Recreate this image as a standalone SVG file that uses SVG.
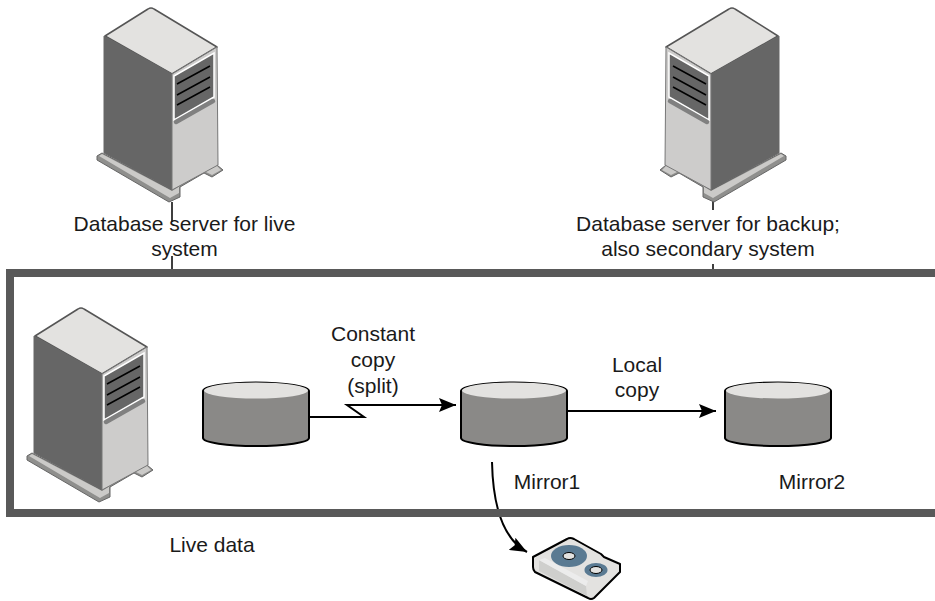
<svg xmlns="http://www.w3.org/2000/svg" width="935" height="601" viewBox="0 0 935 601">
<style>
text{font-family:"Liberation Sans",Arial,sans-serif;font-size:21px;fill:#1a1a1a;text-anchor:middle}
.c{fill:none;stroke:#000;stroke-width:2}
.cyl{fill:#8a8987;stroke:#000;stroke-width:2}
.top{fill:#e3e2e0}
</style>
<defs>
<marker id="a" markerWidth="18" markerHeight="14" refX="17" refY="7" orient="auto" markerUnits="userSpaceOnUse"><path d="M0 0L17 7L0 14L3 7z" fill="#000"/></marker>
<g id="srv">
<path d="M97 156L102 153L172 190L212 165L217 165L223 170L212 177L204 173L180 187L180 197L169 202L97 160Z" fill="#8f8f8d" stroke="#666" stroke-width="1"/>
<path d="M99 156L102 154L172 191L212 166L217 166L221 170L212 175L204 171L179 186L179 193L170 198Z" fill="#cbcac8"/>
<path d="M105 36L148 9Q151 7 154 9L217 47L172 74Z" fill="#e3e2e0" stroke="#555" stroke-width="1.500" stroke-linejoin="round"/>
<path d="M104 36L172 74L172 190L104 153Z" fill="#666" stroke="#666"/>
<path d="M172 74L217 47L218 165L172 190Z" fill="#cdcccb" stroke="#777" stroke-width="1"/>
<path d="M174 76L214 53L214 97L174 120Z" fill="#666" stroke="#fff" stroke-width="1.500"/>
<path d="M177 84L210 66M177 95L210 77M177 105L210 87" stroke="#000" stroke-width="1.500" fill="none"/>
<path d="M176 122L213 101" stroke="#808080" stroke-width="4.500" stroke-linecap="round" fill="none"/>
</g>
<g id="cyl">
<path class="cyl" d="M0 9A53 8.500 0 0 1 106 9V56A53 8 0 0 1 0 56Z"/>
<ellipse class="top" cx="53" cy="8.500" rx="52" ry="8"/>
</g>
</defs>
<g id="connectors">
<path d="M172 202V222M172 256V270M713 200V210M713 264V270" stroke="#000" stroke-width="1.500" fill="none"/>
<path class="c" d="M309 417H364L347 405H456" marker-end="url(#a)"/>
<path class="c" d="M567 411H716" marker-end="url(#a)"/>
<path class="c" d="M492 462C493 510 505 540 527 552" marker-end="url(#a)"/>
</g>
<rect id="frame" x="10" y="273" width="940" height="240" fill="none" stroke="#595959" stroke-width="8"/>
<g id="server-live"><use href="#srv"/></g>
<g id="server-backup"><use href="#srv" transform="translate(883 0) scale(-1 1)"/></g>
<g id="server-local"><use href="#srv" transform="translate(-70 300)"/></g>
<g id="disk-live"><use href="#cyl" transform="translate(203 382)"/></g>
<g id="disk-mirror1"><use href="#cyl" transform="translate(461 382)"/></g>
<g id="disk-mirror2"><use href="#cyl" transform="translate(725 382)"/></g>
<g id="tape">
<path d="M533 557L567 539Q570 537 574 539L601 554L604 557L620 564L620 572L594 598Q591 600 588 598L535 572Q533 570 533 567Z" fill="#e3e2e0" stroke="#000" stroke-width="2" stroke-linejoin="round"/>
<path d="M539 560L586 586L587 596L539 571Z" fill="#cfcfcd"/>
<path d="M539 560L545 558L588 581L586 586Z" fill="#ececec"/>
<ellipse cx="569" cy="556" rx="18" ry="11" fill="#5a7a92"/>
<ellipse cx="569" cy="556" rx="6" ry="3.500" fill="#e3e2e0" stroke="#000"/>
<ellipse cx="596" cy="570" rx="11.500" ry="7" fill="#5a7a92"/>
<ellipse cx="596" cy="570" rx="6" ry="3.500" fill="#e3e2e0" stroke="#000"/>
</g>
<text x="184.500" y="231">Database server for live</text>
<text x="184.500" y="256">system</text>
<text x="708" y="231">Database server for backup;</text>
<text x="708" y="256">also secondary system</text>
<text x="373" y="341">Constant</text>
<text x="373" y="367">copy</text>
<text x="373" y="393">(split)</text>
<text x="637" y="372">Local</text>
<text x="637" y="397">copy</text>
<text x="547" y="489">Mirror1</text>
<text x="812" y="489">Mirror2</text>
<text x="212" y="552">Live data</text>
</svg>
